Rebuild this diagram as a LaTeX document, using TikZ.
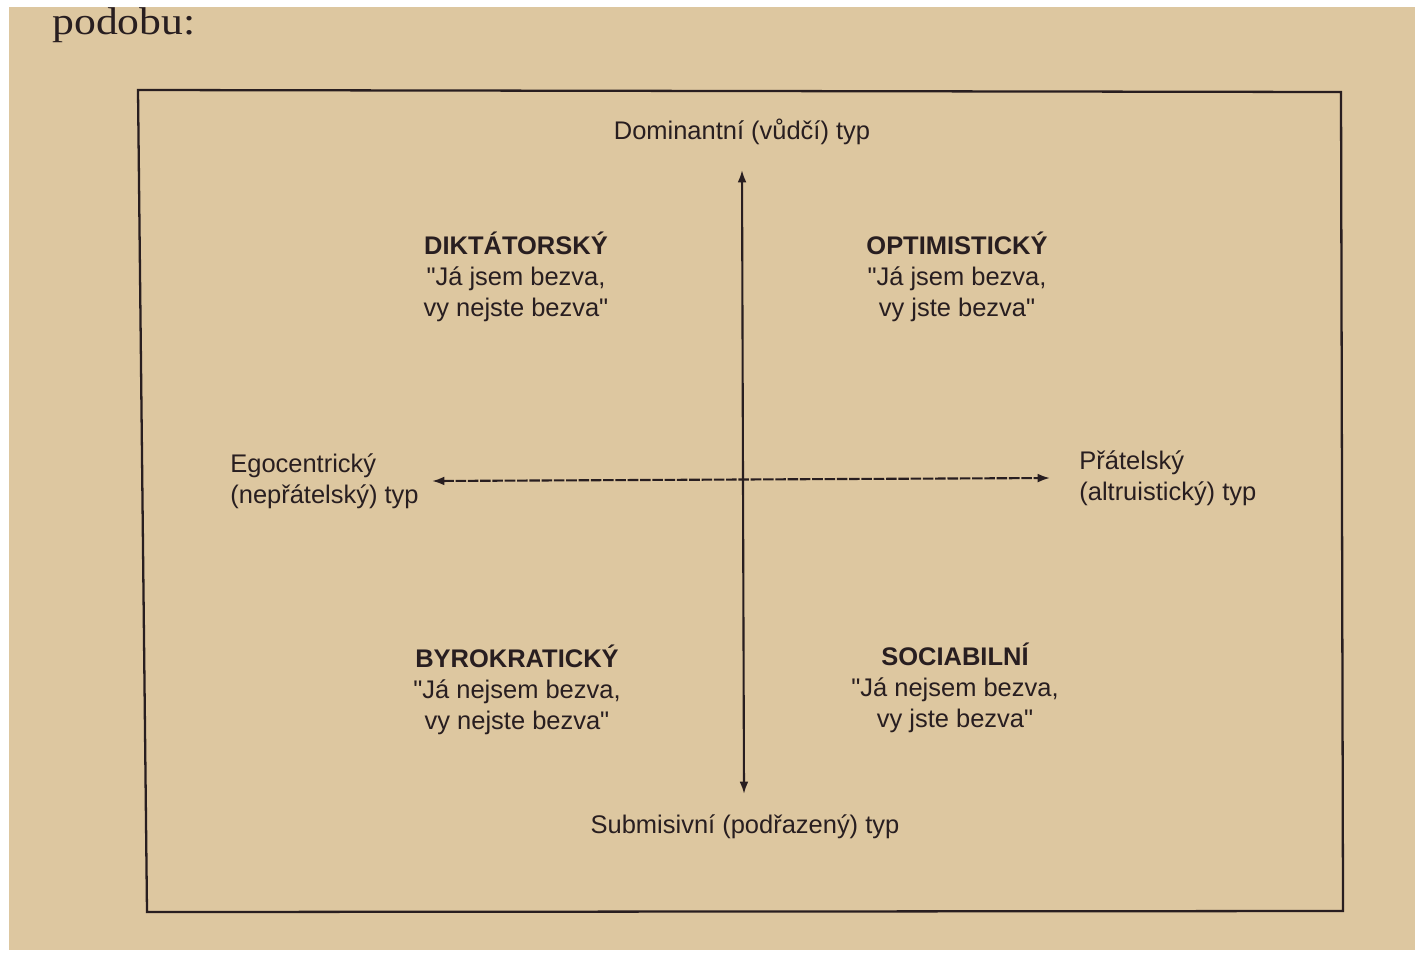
\documentclass[tikz,border=0pt]{standalone}
\usepackage{fontspec}
\usepackage{graphicx}
\newfontfamily\sansx{Liberation Sans}
\newfontfamily\serifx{Liberation Serif}
\usetikzlibrary{arrows.meta}
\definecolor{paper}{RGB}{221,199,160}
\definecolor{ink}{RGB}{40,30,32}
\tikzset{
  lbl/.style={text=ink, font=\sansx\fontsize{14.5}{17.6}\selectfont, align=center, inner sep=0pt},
  lbll/.style={lbl, align=left, anchor=north west},
  ttl/.style={text=ink, font=\sansx\fontsize{14.5}{17.6}\selectfont\bfseries, inner sep=0pt},
  frame/.style={draw=ink, line width=1.3pt},
  axis/.style={draw=ink, line width=1.2pt, arrows={Latex[length=7pt,width=5pt]-Latex[length=7pt,width=5pt]}},
}
\begin{document}
\begin{tikzpicture}[x=0.02cm,y=-0.02cm]
\useasboundingbox (0,0) rectangle (1422,954);
\fill[white] (0,0) rectangle (1422,954);
\fill[paper] (9,7) rectangle (1415,950);
\node[text=ink, font=\serifx\fontsize{22}{26}\selectfont, anchor=base west, inner sep=0pt] (podobu) at (52,34) {\scalebox{1.13}[1]{podobu:}};
% frame
\coordinate (tl) at (138,90);
\coordinate (tr) at (1341,92);
\coordinate (br) at (1343,911);
\coordinate (bl) at (147,912);
\draw[frame] (tl) -- (tr) -- (br) -- (bl) -- cycle;
% axes
\coordinate (vt) at (742,170);
\coordinate (vb) at (744,794);
\coordinate (hl) at (432,481);
\coordinate (hr) at (1050,478);
\draw[axis] (vb) -- (vt);
\draw[axis, dash pattern=on 6pt off 1pt] (hl) -- (hr);
% axis labels
\node[lbl] (dom) at (742,132) {Dominantní (vůdčí) typ};
\node[lbl] (sub) at (745,827) {Submisivní (podřazený) typ};
\node[lbll] (ego) at (230,453) {Egocentrický\\(nepřátelský) typ};
\node[lbll] (prat) at (1079,450) {Přátelský\\(altruistický) typ};
% quadrants
\node[ttl] (dik) at (516,243) {DIKTÁTORSKÝ};
\node[lbl, anchor=north] (dikq) at (516,266) {"Já jsem bezva,\\vy nejste bezva"};
\node[ttl] (opt) at (957,243) {OPTIMISTICKÝ};
\node[lbl, anchor=north] (optq) at (957,266) {"Já jsem bezva,\\vy jste bezva"};
\node[ttl] (byr) at (517,656) {BYROKRATICKÝ};
\node[lbl, anchor=north] (byrq) at (517,679) {"Já nejsem bezva,\\vy nejste bezva"};
\node[ttl] (soc) at (955,654) {SOCIABILNÍ};
\node[lbl, anchor=north] (socq) at (955,677) {"Já nejsem bezva,\\vy jste bezva"};
\end{tikzpicture}
\end{document}
